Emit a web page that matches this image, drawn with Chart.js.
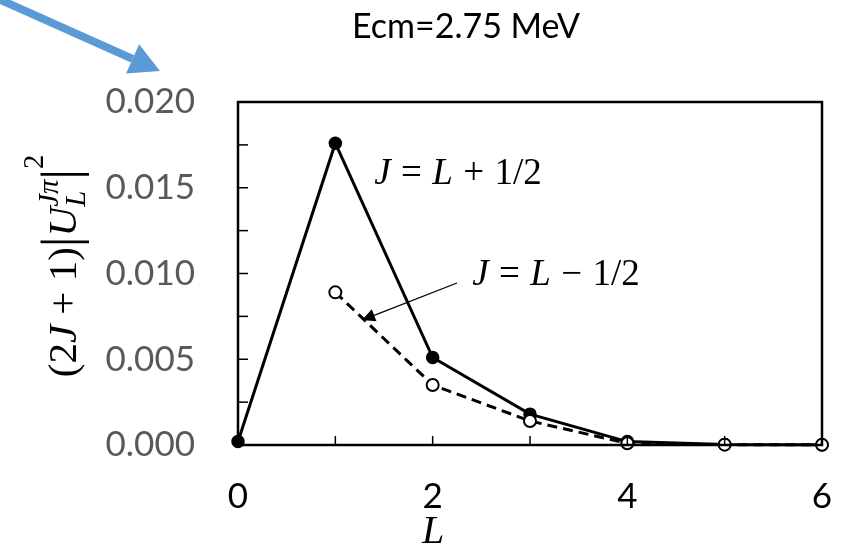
<!DOCTYPE html>
<html>
<head>
<meta charset="utf-8">
<script src="https://cdn.jsdelivr.net/npm/chart.js@4"></script>
<style>
  body { margin: 0; background: #fff; }
  canvas { display: block; }
</style>
</head>
<body>
<canvas id="grafico" width="841" height="548"></canvas>
<script>
// valores
const valoresL = [0, 1, 2, 3, 4, 5, 6];
const jMais = [0.0002, 0.0176, 0.0051, 0.0018, 0.0002, 0.00003, 0.00001];
const jMenos = [null, 0.0089, 0.0035, 0.0014, 0.0001, 0.00002, 0.00001];
const rotulosY = [0, 0.005, 0.01, 0.015, 0.02];
const rotulosX = [0, 2, 4, 6];

const titulo = "Ecm=2.75 MeV";
const fonteSans = "Lato, 'Open Sans', sans-serif";
const fonteMat = "'Liberation Serif', 'DejaVu Serif', serif";

// texto com partes em italico / sub / sobrescrito
const fonteParte = (p, tam) =>
  (p.it ? "italic " : "") + tam * (p.s || 1) + "px " + fonteMat;

const medirPartes = (ctx, partes, tam) => {
  let total = 0;
  partes.forEach((p) => {
    if (p.sup !== undefined) {
      ctx.font = "italic " + tam * 0.7 + "px " + fonteMat;
      p.w = Math.max(ctx.measureText(p.sup).width, ctx.measureText(p.sub).width);
    } else {
      ctx.font = fonteParte(p, tam);
      p.w = ctx.measureText(p.t).width + 2 * (p.pad || 0) * tam;
    }
    total += p.w;
  });
  return total;
};

const desenharPartes = (ctx, partes, x, y, tam) => {
  const total = medirPartes(ctx, partes, tam);
  let cx = x - total / 2;
  ctx.textBaseline = "alphabetic";
  ctx.textAlign = "left";
  partes.forEach((p) => {
    if (p.sup !== undefined) {
      ctx.font = "italic " + tam * 0.7 + "px " + fonteMat;
      ctx.fillText(p.sup, cx, y - tam * 0.45);
      ctx.fillText(p.sub, cx, y + tam * 0.22);
    } else {
      ctx.font = fonteParte(p, tam);
      ctx.fillText(p.t, cx + (p.pad || 0) * tam, y + (p.dy || 0) * tam);
    }
    cx += p.w;
  });
};

const seta = (ctx, x1, y1, x2, y2, larg, cab, abert, cor) => {
  const ang = Math.atan2(y2 - y1, x2 - x1);
  const bx = x2 - cab * Math.cos(ang);
  const by = y2 - cab * Math.sin(ang);
  ctx.strokeStyle = cor;
  ctx.fillStyle = cor;
  ctx.lineWidth = larg;
  ctx.beginPath();
  ctx.moveTo(x1, y1);
  ctx.lineTo(bx, by);
  ctx.stroke();
  ctx.beginPath();
  ctx.moveTo(x2, y2);
  ctx.lineTo(bx + abert * Math.sin(ang), by - abert * Math.cos(ang));
  ctx.lineTo(bx - abert * Math.sin(ang), by + abert * Math.cos(ang));
  ctx.closePath();
  ctx.fill();
};

const extras = {
  id: "extras",
  beforeDraw(chart) {
    const ctx = chart.ctx;
    ctx.save();
    ctx.fillStyle = "#fff";
    ctx.fillRect(0, 0, chart.width, chart.height);
    ctx.restore();
  },
  afterDraw(chart) {
    const ctx = chart.ctx;
    const area = chart.chartArea;
    const sx = chart.scales.x;
    const sy = chart.scales.y;
    ctx.save();

    // caixa do grafico
    ctx.strokeStyle = "#000";
    ctx.lineWidth = 2.5;
    ctx.strokeRect(area.left, area.top, area.right - area.left, area.bottom - area.top);

    // marcas internas
    ctx.lineWidth = 1.5;
    sy.ticks.forEach((t) => {
      if (t.value <= 0 || t.value >= 0.02) return;
      const py = sy.getPixelForValue(t.value);
      ctx.beginPath();
      ctx.moveTo(area.left, py);
      ctx.lineTo(area.left + 10, py);
      ctx.stroke();
    });
    sx.ticks.forEach((t) => {
      if (t.value <= 0 || t.value >= 6) return;
      const px = sx.getPixelForValue(t.value);
      ctx.beginPath();
      ctx.moveTo(px, area.bottom);
      ctx.lineTo(px, area.bottom - 9);
      ctx.stroke();
    });

    // titulo
    ctx.fillStyle = "#000";
    ctx.font = "34px " + fonteSans;
    ctx.textAlign = "center";
    ctx.textBaseline = "alphabetic";
    ctx.fillText(titulo, 466, 38);

    // seta azul
    seta(ctx, -6, -3, 160, 71, 8, 30, 16, "#5b9bd5");

    // rotulos das curvas
    ctx.fillStyle = "#000";
    desenharPartes(ctx, [
      { t: "J", it: true }, { t: "=", pad: 0.28 }, { t: "L", it: true },
      { t: "+", pad: 0.28 }, { t: "1/2" },
    ], 458, 184, 37);
    desenharPartes(ctx, [
      { t: "J", it: true }, { t: "=", pad: 0.28 }, { t: "L", it: true },
      { t: "\u2212", pad: 0.28 }, { t: "1/2" },
    ], 556, 285, 37);
    seta(ctx, 457, 283, 362, 320, 1.3, 13, 6.5, "#000");

    // eixo x
    ctx.fillStyle = "#000";
    desenharPartes(ctx, [{ t: "L", it: true }], 433, 543, 40);

    // eixo y
    ctx.translate(76, 266);
    ctx.rotate(-Math.PI / 2);
    desenharPartes(ctx, [
      { t: "(2" }, { t: "J", it: true }, { t: "+", pad: 0.25 }, { t: "1)" },
      { t: "|", s: 1.3, dy: 0.06 }, { t: "U", it: true },
      { sup: "J\u03c0", sub: "L" },
      { t: "|", s: 1.3, dy: 0.06 }, { t: "2", s: 0.7, dy: -0.8 },
    ], 0, 0, 41);
    ctx.restore();
  },
};

const ctx = document.getElementById("grafico").getContext("2d");
const grafico = new Chart(ctx, {
  type: "line",
  data: {
    labels: valoresL,
    datasets: [
      {
        label: "J = L - 1/2",
        data: jMenos,
        borderColor: "#000",
        borderWidth: 3,
        borderDash: [10, 6],
        pointRadius: 6,
        pointBorderWidth: 2,
        pointBackgroundColor: "#fff",
        pointBorderColor: "#000",
        tension: 0,
        clip: false,
      },
      {
        label: "J = L + 1/2",
        data: jMais,
        borderColor: "#000",
        borderWidth: 3,
        pointRadius: 6,
        pointBorderWidth: 1.5,
        pointBackgroundColor: "#000",
        pointBorderColor: "#000",
        tension: 0,
        clip: false,
      },
    ],
  },
  options: {
    responsive: false,
    animation: false,
    layout: { padding: { top: 102, right: 19, left: 0, bottom: 0 } },
    plugins: {
      legend: { display: false },
      tooltip: { enabled: false },
    },
    scales: {
      x: {
        type: "linear",
        min: 0,
        max: 6,
        grid: { display: false },
        border: { display: false },
        ticks: {
          stepSize: 1,
          autoSkip: false,
          maxRotation: 0,
          padding: 23,
          color: "#000",
          font: { family: fonteSans, size: 35 },
          callback: (v) => (rotulosX.includes(v) ? String(v) : ""),
        },
        afterFit: (s) => {
          s.height = 103;
          s.paddingLeft = 0;
          s.paddingRight = 0;
        },
      },
      y: {
        min: 0,
        max: 0.02,
        grid: { display: false },
        border: { display: false },
        ticks: {
          stepSize: 0.0025,
          autoSkip: false,
          padding: 35,
          color: "#595959",
          font: { family: fonteSans, size: 35 },
          callback: (v) =>
            rotulosY.some((r) => Math.abs(r - v) < 1e-9) ? v.toFixed(3) : "",
        },
        afterFit: (s) => {
          s.width = 238;
          s.paddingTop = 0;
          s.paddingBottom = 0;
        },
      },
    },
  },
  plugins: [extras],
});
</script>
</body>
</html>
